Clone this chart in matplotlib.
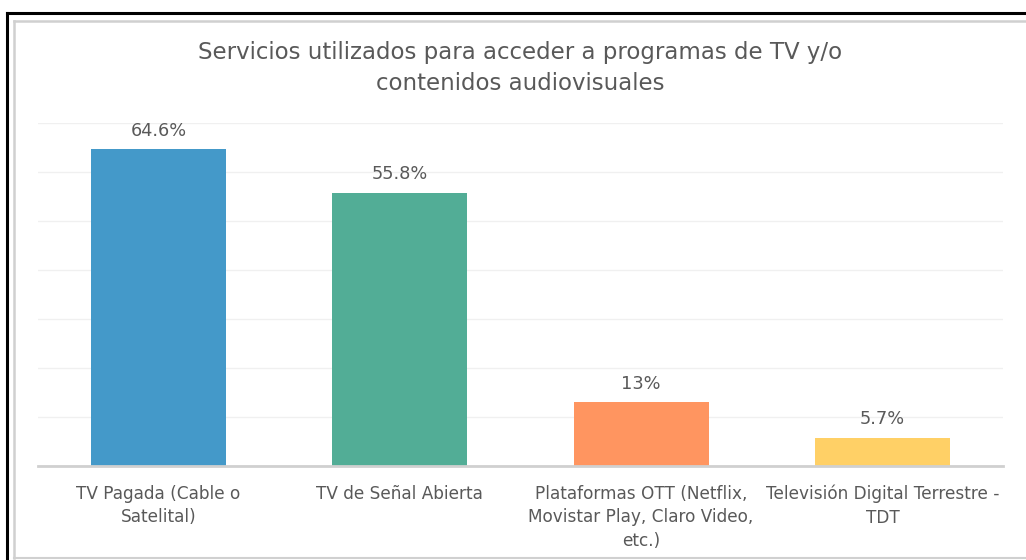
import matplotlib.pyplot as plt
from matplotlib.lines import Line2D

categories = ['TV Pagada (Cable o\nSatelital)', 'TV de Señal Abierta',
              'Plataformas OTT (Netflix,\nMovistar Play, Claro Video,\netc.)',
              'Televisión Digital Terrestre -\nTDT']
values = [64.6, 55.8, 13, 5.7]
value_labels = ['64.6%', '55.8%', '13%', '5.7%']
colors = ['#4499C9', '#52AD96', '#FF9560', '#FFD066']

W, H = 1026, 560
fig = plt.figure(figsize=(W / 100, H / 100), dpi=100)
ax = fig.add_axes([38 / W, 1 - 466 / H, (1003 - 38) / W, (466 - 123) / H])

x = range(len(categories))
bars = ax.bar(x, values, width=0.56, color=colors, zorder=2)
for b, lab in zip(bars, value_labels):
    ax.text(b.get_x() + b.get_width() / 2, b.get_height() + 2.0, lab,
            ha='center', va='bottom', fontsize=12.8, color='#595959')

ax.set_xlim(-0.5, 3.5)
ax.set_ylim(0, 70)
ax.set_yticks(range(0, 71, 10))
ax.yaxis.grid(True, color='#F0F0F0', linewidth=1)
ax.set_axisbelow(True)
ax.tick_params(left=False, labelleft=False, bottom=False)
ax.set_xticks(list(x))
ax.set_xticklabels(categories, fontsize=12.2, color='#595959', linespacing=1.4)
ax.tick_params(axis='x', pad=10)
for s in ['top', 'right', 'left']:
    ax.spines[s].set_visible(False)
ax.spines['bottom'].set_color('#D0D0D0')
ax.spines['bottom'].set_linewidth(2)

fig.text(520 / W, 1 - 68 / H, 'Servicios utilizados para acceder a programas de TV y/o\ncontenidos audiovisuales',
         ha='center', va='center', fontsize=16.5, color='#595959', linespacing=1.5)

# outer black frame and inner gray frame
def px(xx, yy):
    return [v / W for v in xx], [1 - v / H for v in yy]

for xs, ys, c, lw in [
    ([7, 7], [13, 560], 'black', 2.2),
    ([7, 1026], [13, 13], 'black', 2.2),
    ([14, 14], [21, 558], '#D0D0D0', 1.8),
    ([14, 1026], [21, 21], '#D0D0D0', 1.8),
    ([14, 1026], [558, 558], '#D0D0D0', 1.5),
]:
    fx, fy = px(xs, ys)
    fig.add_artist(Line2D(fx, fy, color=c, linewidth=lw, transform=fig.transFigure))

fig.savefig('out.png', dpi=100)
